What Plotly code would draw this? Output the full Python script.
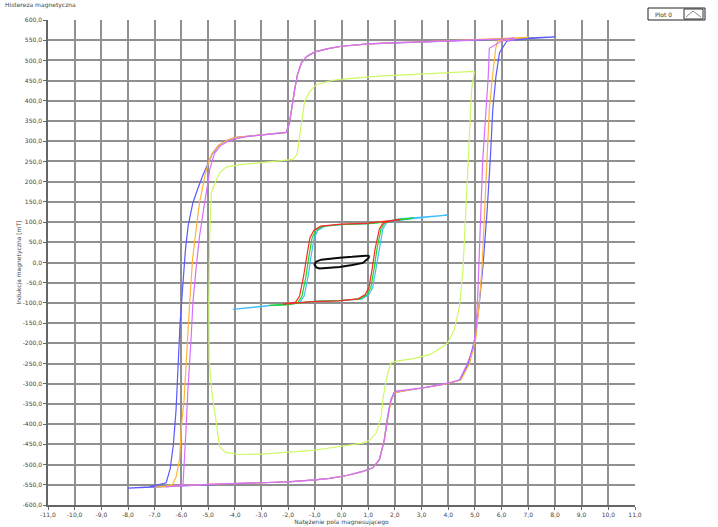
import plotly.graph_objects as go

# ---------------- data ----------------
x_ticks = [-11, -10, -9, -8, -7, -6, -5, -4, -3, -2, -1, 0, 1, 2, 3, 4, 5, 6, 7, 8, 9, 10, 11]
x_tick_text = ["-11,0", "-10,0", "-9,0", "-8,0", "-7,0", "-6,0", "-5,0", "-4,0", "-3,0", "-2,0", "-1,0",
               "0,0", "1,0", "2,0", "3,0", "4,0", "5,0", "6,0", "7,0", "8,0", "9,0", "10,0", "11,0"]
y_ticks = [600, 550, 500, 450, 400, 350, 300, 250, 200, 150, 100, 50, 0,
           -50, -100, -150, -200, -250, -300, -350, -400, -450, -500, -550, -600]
y_tick_text = ["600,0", "550,0", "500,0", "450,0", "400,0", "350,0", "300,0", "250,0", "200,0",
               "150,0", "100,0", "50,0", "0,0", "-50,0", "-100,0", "-150,0", "-200,0", "-250,0",
               "-300,0", "-350,0", "-400,0", "-450,0", "-500,0", "-550,0", "-600,0"]

# big loop, blue (field range +-8)
blue_x = [8.0, 7.0, 6.0, 5.0, 4.0, 3.0, 2.0, 1.0, 0.0, -0.5, -1.0, -1.3, -1.5, -1.65, -1.75, -1.85, -1.95,
          -2.07, -2.5, -3.0, -3.5, -4.0, -4.3, -4.6, -4.85, -5.05, -5.2, -5.4, -5.57, -5.75, -5.85, -5.95,
          -6.05, -6.12, -6.2, -6.3, -6.42, -6.57, -7.2, -8.0,
          -7.0, -6.0, -5.0, -4.0, -3.0, -2.0, -1.0, -0.45, 0.2, 0.8, 1.17, 1.42, 1.6, 1.73, 1.85, 1.97,
          2.5, 3.0, 3.5, 4.0, 4.45, 4.75, 5.0, 5.15, 5.3, 5.45, 5.58, 5.67, 5.79, 5.92, 6.2, 7.0, 8.0]
blue_y = [558, 556, 553, 550, 548, 546, 544, 541, 535, 529, 521, 510, 494, 465, 430, 390, 345,
          322, 319, 317, 313, 309, 302, 290, 268, 240, 215, 180, 148, 90, 30, -59,
          -150, -250, -364, -450, -510, -545, -555, -558,
          -555, -552, -549, -547, -545, -543, -538, -534, -527, -517, -508, -488, -440, -380, -340, -322,
          -316, -311, -306, -300, -290, -250, -190, -110, -10, 120, 260, 379, 461, 519, 548, 554, 558]

# big loop, orange (field range +-7)
orange_x = [7.0, 6.0, 5.0, 4.0, 3.0, 2.0, 1.0, 0.0, -0.5, -1.0, -1.3, -1.5, -1.65, -1.75, -1.85, -1.95,
            -2.07, -2.5, -3.0, -3.5, -4.0, -4.3, -4.6, -4.85, -5.0, -5.12, -5.32, -5.45, -5.58, -5.69,
            -5.76, -5.82, -5.9, -6.0, -6.07, -6.2, -6.33, -6.6, -7.0,
            -6.0, -5.0, -4.0, -3.0, -2.0, -1.0, -0.45, 0.2, 0.8, 1.17, 1.42, 1.6, 1.74, 1.87, 1.99,
            2.5, 3.0, 3.5, 4.0, 4.48, 4.8, 5.03, 5.15, 5.27, 5.36, 5.46, 5.54, 5.66, 5.78, 5.85, 6.3, 7.0]
orange_y = [557, 554, 551, 548, 546, 544, 541, 535, 529, 521, 510, 494, 465, 430, 390, 345,
            322, 319, 317, 313, 309, 302, 290, 270, 245, 215, 148, 80, 10, -99,
            -180, -265, -340, -405, -488, -530, -549, -554, -556,
            -552, -549, -547, -545, -543, -538, -534, -527, -517, -508, -488, -440, -380, -340, -322,
            -316, -311, -306, -300, -290, -250, -190, -110, -10, 120, 260, 379, 461, 530, 548, 553, 557]

# big loop, violet (field range +-6.5)
violet_x = [6.5, 6.0, 5.0, 4.0, 3.0, 2.0, 1.0, 0.0, -0.5, -1.0, -1.3, -1.5, -1.65, -1.75, -1.85, -1.95,
            -2.07, -2.5, -3.0, -3.5, -4.0, -4.3, -4.55, -4.76, -4.94, -5.0, -5.15, -5.32, -5.45, -5.57,
            -5.63, -5.69, -5.76, -5.82, -5.88, -5.94, -6.2, -6.6,
            -6.0, -5.0, -4.0, -3.0, -2.0, -1.0, -0.45, 0.2, 0.8, 1.17, 1.42, 1.61, 1.73, 1.83, 1.92,
            2.05, 3.05, 4.04, 4.42, 4.67, 4.92, 5.04, 5.1, 5.16, 5.22, 5.29, 5.42, 5.5, 5.54, 6.0, 6.5]
violet_y = [555, 553, 551, 548, 546, 544, 541, 535, 529, 521, 510, 494, 465, 430, 390, 345,
            322, 319, 316, 312, 306, 298, 288, 270, 230, 200, 140, 65, -15, -100,
            -180, -240, -320, -405, -490, -549, -553, -555,
            -552, -549, -547, -545, -543, -538, -534, -527, -517, -508, -488, -438, -380, -345, -331,
            -318, -310, -298, -290, -257, -215, -166, -90, 0, 120, 250, 379, 461, 530, 548, 551, 555]

# smaller loop, lime (field range +-5)
lime_x = [4.98, 4.0, 3.0, 2.0, 1.42, 0.5, -0.33, -0.95, -1.2, -1.39, -1.51, -1.6, -1.66, -1.82, -2.5,
          -3.07, -3.8, -4.32, -4.57, -4.72, -4.88, -4.94, -4.97, -4.96, -4.86, -4.75, -4.65, -4.57,
          -4.35, -3.82, -3.0, -1.95, -1.07, -0.45, 0.3, 0.8, 1.05, 1.3, 1.49, 1.55, 1.65, 1.73, 1.86,
          2.05, 2.7, 3.3, 3.75, 3.98, 4.23, 4.42, 4.55, 4.65, 4.75, 4.84, 4.88, 4.98]
lime_y = [473, 470, 467, 463, 461, 456, 451, 440, 422, 397, 340, 290, 268, 255, 251,
          247, 242, 236, 222, 200, 172, 65, -100, -240, -320, -370, -420, -455,
          -470, -475, -474, -469, -465, -459, -452, -447, -440, -422, -380, -339, -300, -275, -248,
          -244, -238, -228, -210, -199, -166, -110, -20, 100, 250, 380, 430, 473]

# middle loops
green_x = [2.7, 2.17, 1.6, 1.0, 0.05, -0.7, -0.95, -1.1, -1.22, -1.33, -1.48, -1.62, -2.0, -2.7,
           -2.0, -1.6, -1.0, -0.05, 0.7, 0.95, 1.1, 1.22, 1.33, 1.48, 1.62, 2.0, 2.7]
green_y = [110, 107, 100, 96, 94, 90, 80, 62, 16, -34, -83, -98, -103, -106,
           -104, -100, -96, -94, -90, -80, -62, -16, 34, 83, 98, 104, 110]

red_x = [2.2, 1.9, 1.5, 0.9, 0.0, -0.78, -1.03, -1.18, -1.3, -1.42, -1.57, -1.72, -2.2,
         -1.7, -1.1, -0.1, 0.62, 0.88, 1.03, 1.15, 1.26, 1.42, 1.56, 1.9, 2.2]
red_y = [106, 104, 100, 97, 95, 90, 80, 62, 16, -34, -83, -98, -103,
         -100, -97, -95, -90, -80, -62, -16, 34, 83, 98, 103, 106]

cyan_x = [3.98, 3.0, 2.17, 1.65, 1.05, 0.1, -0.62, -0.88, -1.02, -1.14, -1.25, -1.4, -1.55, -2.0, -2.7, -4.07,
          -2.7, -2.0, -1.5, -0.95, 0.0, 0.76, 1.02, 1.17, 1.29, 1.4, 1.55, 1.7, 2.2, 3.0, 3.98]
cyan_y = [117, 113, 108, 101, 96, 94, 90, 80, 62, 16, -34, -83, -98, -104, -107, -116,
          -106, -104, -99, -96, -94, -90, -80, -62, -16, 34, 83, 99, 105, 111, 117]

# tiny loop, black
black_x = [1.05, 0.92, 0.4, -0.07, -0.76, -0.95, -1.01, -0.95, -0.82, -0.4, -0.07, 0.4, 0.8, 1.0, 1.05]
black_y = [16, 17, 14, 12, 7, 2, -5, -12, -15, -13, -11, -6, -1, 10, 16]

series = [
    ("lime", lime_x, lime_y, "rgb(205,250,100)", 1.2),
    ("blue", blue_x, blue_y, "rgb(90,90,255)", 1.2),
    ("orange", orange_x, orange_y, "rgb(255,180,60)", 1.2),
    ("violet", violet_x, violet_y, "rgb(215,110,255)", 1.2),
    ("cyan", cyan_x, cyan_y, "rgb(60,190,255)", 1.2),
    ("green", green_x, green_y, "rgb(30,215,30)", 1.2),
    ("red", red_x, red_y, "rgb(250,40,40)", 1.2),
    ("black", black_x, black_y, "rgb(10,10,10)", 2.0),
]

fig = go.Figure()
for name, xs, ys, col, w in series:
    fig.add_trace(go.Scatter(x=xs, y=ys, mode="lines", name=name,
                             line=dict(color=col, width=w), showlegend=False))

L, R, T, B = 48, 83, 20, 22
W, H = 718, 527
pw, ph = W - L - R, H - T - B


def px(xp):
    return (xp - L) / pw


def py(yp):
    return (H - B - yp) / ph


font_family = "DejaVu Sans"
axis_common = dict(showgrid=True, gridcolor="#909090", gridwidth=1.5, zeroline=False, automargin=False,
                   showline=True, linecolor="#666", linewidth=1.5, ticks="outside",
                   ticklen=3, tickcolor="#666", tickfont=dict(size=6, color="#444", family=font_family))

fig.update_layout(
    width=W, height=H,
    margin=dict(l=L, r=R, t=T, b=B, autoexpand=False),
    paper_bgcolor="white", plot_bgcolor="white",
    showlegend=False,
    title=dict(text="Histereza magnetyczna", x=5 / W, y=1 - 3 / H, xref="container", yref="container",
               xanchor="left", yanchor="top", font=dict(size=6, color="#444", family=font_family)),
    xaxis=dict(range=[-11, 11], tickvals=x_ticks, ticktext=x_tick_text,
               title=dict(text="Natężenie pola magnesującego", font=dict(size=6, color="#444", family=font_family),
                          standoff=1),
               **axis_common),
    yaxis=dict(range=[-600, 600], tickvals=y_ticks, ticktext=y_tick_text,
               title=dict(text="Indukcja magnetyczna [mT]", font=dict(size=6, color="#444", family=font_family),
                          standoff=1),
               **axis_common),
)

# legend box "Plot 0"
fig.add_shape(type="rect", xref="paper", yref="paper", x0=px(648), x1=px(705), y0=py(20), y1=py(8),
              line=dict(color="#222", width=1), fillcolor="rgba(0,0,0,0)")
fig.add_shape(type="rect", xref="paper", yref="paper", x0=px(684), x1=px(703), y0=py(19), y1=py(9),
              line=dict(color="#333", width=1), fillcolor="rgba(0,0,0,0)")
fig.add_shape(type="path", xref="paper", yref="paper",
              path=f"M {px(686)},{py(17)} L {px(693)},{py(11)} L {px(701)},{py(17)}",
              line=dict(color="#888", width=1))
fig.add_annotation(text="Plot 0", xref="paper", yref="paper", x=px(663), y=py(14), showarrow=False,
                   xanchor="center", yanchor="middle",
                   font=dict(size=6, color="#333", family=font_family))

fig.write_html("out.html", config={"displayModeBar": False},
               post_script="document.body.style.margin='0';document.body.style.overflow='hidden';")
